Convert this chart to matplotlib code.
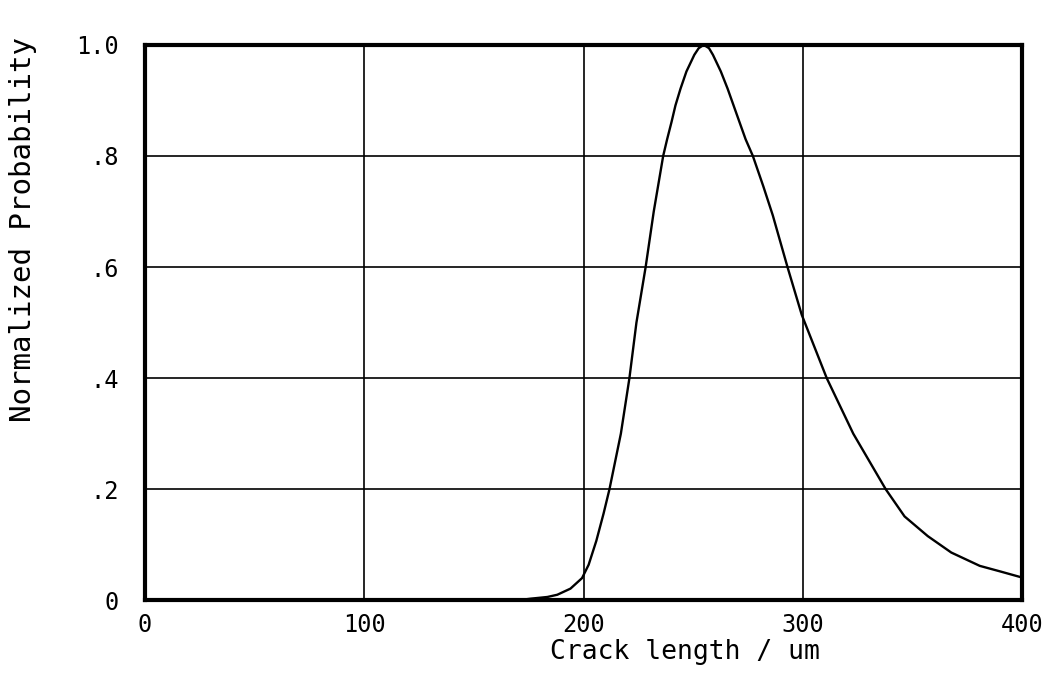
import matplotlib
matplotlib.use("Agg")
import matplotlib.pyplot as plt

# values
crack_len = [0, 65, 120, 170, 176, 183.5, 188, 194, 199.3, 202.3, 205.8,
             209.1, 211.8, 217, 220.9, 224.1, 228.3, 232, 236.3, 238.1,
             240.1, 241.9, 244.2, 246.9, 250.5, 252.5, 254.8, 257.2, 259,
             262.6, 265.7, 268.4, 271.1, 273.9, 277.2, 282, 286.3, 293, 299.5,
             310.9, 323, 337.8, 346.4, 357, 367.7, 380.7, 390, 400]
norm_prob = [0, 0, 0, 0, 0.003, 0.006, 0.010, 0.021, 0.040, 0.064, 0.107,
             0.156, 0.2, 0.3, 0.4, 0.5, 0.6, 0.7, 0.8, 0.830,
             0.861, 0.891, 0.921, 0.952, 0.982, 0.994, 1.0, 0.994, 0.982,
             0.952, 0.921, 0.891, 0.861, 0.830, 0.8, 0.745, 0.693, 0.6, 0.514,
             0.4, 0.3, 0.2, 0.151, 0.1155, 0.086, 0.062, 0.052, 0.041]

x_ticks = [0, 100, 200, 300, 400]
x_labels = ["0", "100", "200", "300", "400"]
y_ticks = [0, 0.2, 0.4, 0.6, 0.8, 1.0]
y_labels = ["0", ".2", ".4", ".6", ".8", "1.0"]

plt.rcParams['font.family'] = ['DejaVu Sans Mono']

fig = plt.figure(figsize=(10.44, 6.9), dpi=100)
ax = fig.add_axes([0.139, 0.130, 0.840, 0.805])

ax.plot(crack_len, norm_prob, color='black', linewidth=1.7,
        clip_on=False, zorder=3, solid_joinstyle='round')

ax.set_xlim(0, 400)
ax.set_ylim(0, 1.0)
ax.set_xticks(x_ticks)
ax.set_xticklabels(x_labels)
ax.set_yticks(y_ticks)
ax.set_yticklabels(y_labels)
ax.tick_params(length=0, labelsize=17)
ax.tick_params(axis='x', pad=9)
ax.tick_params(axis='y', pad=19)

ax.grid(True, color='black', linewidth=1.2)
ax.set_axisbelow(True)
for sp in ax.spines.values():
    sp.set_linewidth(3.0)

ax.set_xlabel("Crack length / um", fontsize=19)
ax.xaxis.set_label_coords(0.615, -0.07)
ax.set_ylabel("Normalized Probability", fontsize=21)
ax.yaxis.set_label_coords(-0.123, 0.667)

fig.savefig("out.png", dpi=100)
